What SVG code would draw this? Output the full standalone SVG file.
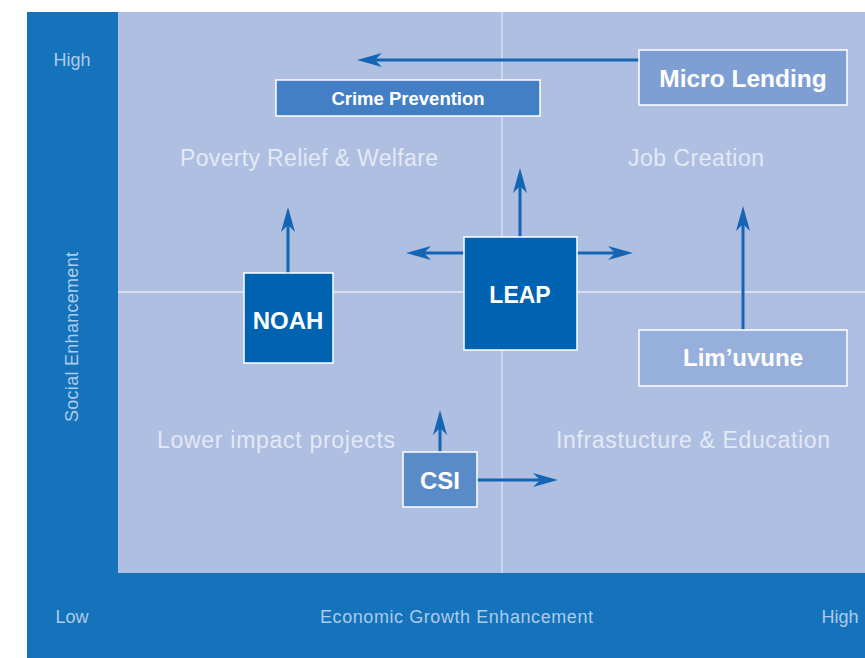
<svg xmlns="http://www.w3.org/2000/svg" width="865" height="658" viewBox="0 0 865 658">
<defs>
<style>
.axis{font-family:"Liberation Sans",Arial,sans-serif;font-size:18px;fill:#aecbea;}
.quad{font-family:"Liberation Sans",Arial,sans-serif;font-size:23px;fill:#e3e9f5;}
.lbl{font-family:"Liberation Sans",Arial,sans-serif;font-weight:bold;fill:#ffffff;text-anchor:middle;dominant-baseline:central;}
.box{stroke:#ffffff;stroke-width:1.5;}
.conn{stroke:#1565b5;stroke-width:3;fill:none;marker-end:url(#ah);}
</style>
<marker id="ah" markerUnits="userSpaceOnUse" markerWidth="30" markerHeight="20" viewBox="-10 -10 30 20" refX="0" refY="0" orient="auto">
<path d="M18,0 L-7,-7 L0,0 L-7,7 Z" fill="#1565b5"/>
</marker>
</defs>
<rect x="0" y="0" width="865" height="658" fill="#ffffff"/>
<rect x="27" y="12" width="838" height="646" fill="#1473ba"/>
<rect x="118" y="12" width="747" height="561" fill="#afbfe1"/>
<line x1="502" y1="12" x2="502" y2="573" stroke="#d8e0f0" stroke-width="1.5"/>
<line x1="118" y1="292" x2="865" y2="292" stroke="#ffffff" stroke-width="1"/>

<g id="axis-labels">
<text class="axis" x="72" y="66" text-anchor="middle">High</text>
<text class="axis" x="72" y="623" text-anchor="middle">Low</text>
<text class="axis" x="840" y="623" text-anchor="middle">High</text>
<text class="axis" x="320" y="623" font-size="18.5" textLength="273">Economic Growth Enhancement</text>
<text class="axis" transform="translate(78,422) rotate(-90)" textLength="170">Social Enhancement</text>
</g>

<g id="quadrant-labels">
<text class="quad" x="180" y="166" textLength="258">Poverty Relief &amp; Welfare</text>
<text class="quad" x="628" y="166" textLength="136">Job Creation</text>
<text class="quad" x="157" y="448" textLength="238">Lower impact projects</text>
<text class="quad" x="556" y="448" textLength="274">Infrastucture &amp; Education</text>
</g>

<g id="connectors">
<line class="conn" x1="639" y1="60" x2="375" y2="60"/>
<line class="conn" x1="520" y1="237" x2="520" y2="186"/>
<line class="conn" x1="464" y1="253" x2="424" y2="253"/>
<line class="conn" x1="577" y1="253" x2="615" y2="253"/>
<line class="conn" x1="288" y1="273" x2="288" y2="225"/>
<line class="conn" x1="743" y1="330" x2="743" y2="224"/>
<line class="conn" x1="440" y1="452" x2="440" y2="428"/>
<line class="conn" x1="477" y1="480" x2="540" y2="480"/>
</g>

<g id="crime-prevention">
<rect class="box" x="276" y="80" width="264" height="36" fill="#437fc4"/>
<text class="lbl" x="408" y="98" font-size="18.5">Crime Prevention</text>
</g>
<g id="micro-lending">
<rect class="box" x="639" y="50" width="208" height="55" fill="#7f9fd3"/>
<text class="lbl" x="743" y="78" font-size="24.5">Micro Lending</text>
</g>
<g id="leap">
<rect class="box" x="464" y="237" width="113" height="113" fill="#0063b1"/>
<text class="lbl" x="520" y="295" font-size="23">LEAP</text>
</g>
<g id="noah">
<rect class="box" x="244" y="273" width="89" height="90" fill="#0063b1"/>
<text class="lbl" x="288" y="320" font-size="24">NOAH</text>
</g>
<g id="limuvune">
<rect class="box" x="639" y="330" width="208" height="56" fill="#97b0db"/>
<text class="lbl" x="743" y="357" font-size="24">Lim’uvune</text>
</g>
<g id="csi">
<rect class="box" x="403" y="452" width="74" height="55" fill="#5a8bc9"/>
<text class="lbl" x="440" y="480" font-size="24">CSI</text>
</g>
</svg>
